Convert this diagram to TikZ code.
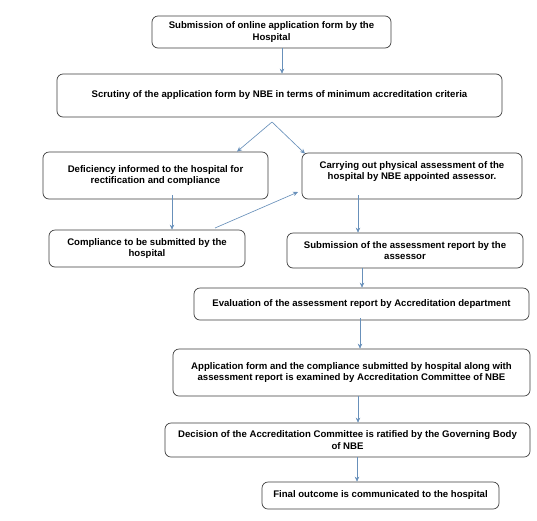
\documentclass[tikz,border=0pt]{standalone}
\usepackage{fontspec}
\setmainfont{Liberation Sans}
\usetikzlibrary{arrows.meta}
\definecolor{arrblue}{RGB}{104,144,186}
\definecolor{boxgray}{RGB}{60,60,60}
\tikzset{
  box/.style={draw=boxgray, line width=0.7pt, rounded corners=6pt, align=center,
    font=\fontsize{9.6}{11.8}\selectfont\bfseries, inner sep=0pt, text=black},
  boxtext/.style={align=center, font=\fontsize{9.6}{11.8}\selectfont\bfseries, inner sep=0pt, text=black},
  arr/.style={draw=arrblue, line width=0.65pt, -{Stealth[length=5pt,width=4.5pt]}}
}
\begin{document}
\begin{tikzpicture}[x=1pt,y=-1pt]
\useasboundingbox (0,0) rectangle (537,520);
\node[box, minimum width=239, minimum height=32] (b1) at (271.5,32)
  {Submission of online application form by the\\Hospital};
\node[box, minimum width=445, minimum height=43] (b2) at (279.5,95.5)
  {Scrutiny of the application form by NBE in terms of minimum accreditation criteria};
\node[box, minimum width=225, minimum height=47] (b3) at (155.5,175.5)
  {Deficiency informed to the hospital for\\rectification and compliance};
\node[box, minimum width=220, minimum height=46] (b4) at (412,176) {};
\node[boxtext] (t4) at (412,171.5)
  {Carrying out physical assessment of the\\hospital by NBE appointed assessor.};
\node[box, minimum width=196, minimum height=37] (b5) at (147,248.5)
  {Compliance to be submitted by the\\hospital};
\node[box, minimum width=236, minimum height=35] (b6) at (405,250.5)
  {Submission of the assessment report by the\\assessor};
\node[box, minimum width=335, minimum height=32] (b7) at (361.5,304)
  {Evaluation of the assessment report by Accreditation department};
\node[box, minimum width=357, minimum height=47] (b8) at (351.5,372.5)
  {Application form and the compliance submitted by hospital along with\\assessment report is examined by Accreditation Committee of NBE};
\node[box, minimum width=365, minimum height=34] (b9) at (347.5,440)
  {Decision of the Accreditation Committee is ratified by the Governing Body\\of NBE};
\node[box, minimum width=237, minimum height=27] (b10) at (380.5,495.5)
  {Final outcome is communicated to the hospital};
% connector coordinates
\coordinate (apex) at (272,122);
\coordinate (c12) at (282,0);
\coordinate (c23) at (237,0);
\coordinate (c24) at (305,0);
\coordinate (c35) at (172,0);
\coordinate (c46) at (358,0);
\coordinate (c67) at (362,0);
\coordinate (c78) at (360,0);
\coordinate (c89) at (358,0);
\coordinate (c910) at (357,0);
\coordinate (s5) at (215,228);
\coordinate (e4) at (298,192);
\draw[arr] (b1.south -| c12) -- (b2.north -| c12);
\draw[arr] (apex) -- (b3.north -| c23);
\draw[arr] (apex) -- ([yshift=-1]b4.north -| c24);
\draw[arr] ([yshift=4]b3.south -| c35) -- (b5.north -| c35);
\draw[arr] (s5) -- (e4);
\draw[arr] ([yshift=4]b4.south -| c46) -- (b6.north -| c46);
\draw[arr] (b6.south -| c67) -- (b7.north -| c67);
\draw[arr] ([yshift=2]b7.south -| c78) -- (b8.north -| c78);
\draw[arr] (b8.south -| c89) -- (b9.north -| c89);
\draw[arr] (b9.south -| c910) -- (b10.north -| c910);
\end{tikzpicture}
\end{document}
